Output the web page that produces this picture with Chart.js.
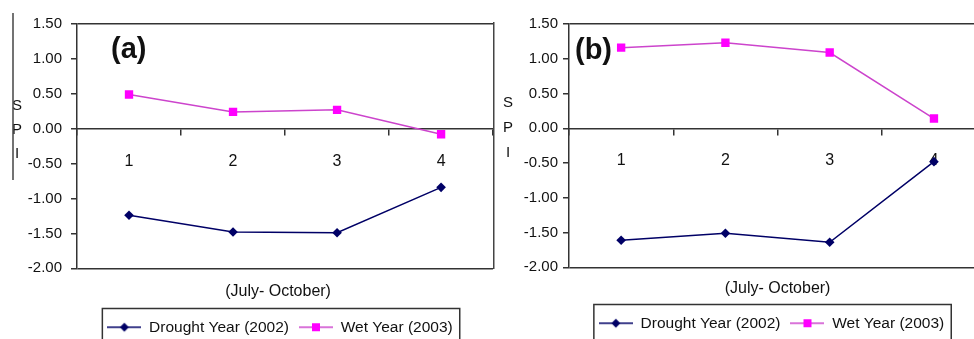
<!DOCTYPE html>
<html>
<head>
<meta charset="utf-8">
<script src="https://cdn.jsdelivr.net/npm/chart.js@4"></script>
<style>
  html, body { margin: 0; padding: 0; background: #fff; overflow: hidden; }
  #wrap { position: relative; width: 974px; height: 339px; overflow: hidden; }
  .panel { position: absolute; top: 0; width: 499px; }
  #panelA { left: 0; height: 350px; }
  #panelB { left: 493px; height: 346px; background: #fff; }
</style>
</head>
<body>
<div id="wrap">
  <div class="panel" id="panelA"><canvas id="chartA"></canvas></div>
  <div class="panel" id="panelB"><canvas id="chartB"></canvas></div>
</div>
<script>
var months = ['1', '2', '3', '4'];
var yTicks = [-2, -1.5, -1, -0.5, 0, 0.5, 1, 1.5];
var droughtA = [-1.24, -1.48, -1.49, -0.84];
var wetA = [0.49, 0.24, 0.27, -0.08];
var droughtB = [-1.61, -1.51, -1.64, -0.48];
var wetB = [1.16, 1.23, 1.09, 0.14];
var seriesNames = ['Drought Year (2002)', 'Wet Year (2003)'];
var axisTitle = '(July- October)';
var yLetters = ['S', 'P', 'I'];

var FONT = '"Liberation Sans", Arial, sans-serif';
var INK = '#111';
var AXIS = '#333';
var NAVY = '#000066';
var MAGENTA = '#ff00ff';
var MAG_LINE = '#cc44cc';

// small line+marker pictures for the legend
function legendMark(lineColor, fill, diamond) {
  var c = document.createElement('canvas');
  c.width = 34; c.height = 12;
  var g = c.getContext('2d');
  g.strokeStyle = lineColor; g.lineWidth = 1.5;
  g.beginPath(); g.moveTo(0, 6); g.lineTo(34, 6); g.stroke();
  g.fillStyle = fill;
  if (diamond) {
    g.beginPath(); g.moveTo(17, 1.5); g.lineTo(21.5, 6); g.lineTo(17, 10.5); g.lineTo(12.5, 6); g.closePath(); g.fill();
  } else {
    g.fillRect(13, 2, 8, 8);
  }
  return c;
}
var markDrought = legendMark(NAVY, NAVY, true);
var markWet = legendMark(MAG_LINE, MAGENTA, false);

var decor = {
  id: 'decor',
  beforeDraw: function(chart, args, o) {
    // nudge title and legend off the plot centre, as in the original figure
    var t = chart.titleBlock, lg = chart.legend;
    t.left += o.titleShift; t.right += o.titleShift;
    lg.left += o.legendShift; lg.right += o.legendShift;
    lg.legendHitBoxes.forEach(function(h) { h.left += o.legendShift; });
  },
  afterDraw: function(chart, args, o) {
    var ctx = chart.ctx;
    ctx.save();
    ctx.fillStyle = INK;
    ctx.textBaseline = 'middle';
    ctx.textAlign = 'left';
    ctx.font = 'bold 29px ' + FONT;
    ctx.fillText(o.tag, o.tagX, o.tagY);
    ctx.font = '15px ' + FONT;
    ctx.textAlign = 'center';
    yLetters.forEach(function(l, i) { ctx.fillText(l, o.spiX, o.spiY + i * o.spiStep); });
    ctx.strokeStyle = '#444';
    ctx.lineWidth = 1.5;
    ctx.beginPath(); ctx.moveTo(o.ruleX, o.ruleTop); ctx.lineTo(o.ruleX, o.ruleBottom); ctx.stroke();
    // frame round the legend
    var hb = chart.legend.legendHitBoxes;
    var first = hb[0], last = hb[hb.length - 1];
    var x0 = first.left - 5, x1 = last.left + last.width + 7;
    ctx.strokeStyle = AXIS;
    ctx.strokeRect(x0, first.top - 11, x1 - x0, 60);
    ctx.restore();
  }
};

function makeChart(id, drought, wet, o) {
  return new Chart(document.getElementById(id), {
    type: 'line',
    data: {
      labels: months,
      datasets: [{
        label: seriesNames[0],
        data: drought,
        borderColor: NAVY,
        backgroundColor: NAVY,
        borderWidth: 1.5,
        pointStyle: 'rectRot',
        pointRadius: 4.8,
        pointBorderWidth: 0,
        tension: 0
      }, {
        label: seriesNames[1],
        data: wet,
        borderColor: MAG_LINE,
        backgroundColor: MAGENTA,
        pointBorderColor: MAGENTA,
        borderWidth: 1.5,
        pointStyle: 'rect',
        pointRadius: 5.9,
        pointBorderWidth: 0,
        tension: 0
      }]
    },
    options: {
      responsive: true,
      maintainAspectRatio: false,
      animation: false,
      events: [],
      layout: { padding: { left: 0, right: 0, top: 24, bottom: 5 } },
      scales: {
        x: {
          position: { y: 0 },
          offset: true,
          grid: { offset: true, drawOnChartArea: false, tickLength: 6, color: AXIS, lineWidth: 1.5 },
          border: { color: AXIS, width: 1.5 },
          ticks: { color: INK, padding: 17, font: { family: FONT, size: 16 } }
        },
        y: {
          min: -2,
          max: 1.5,
          afterFit: function(s) { s.width = o.yWidth; },
          afterBuildTicks: function(s) { s.ticks = yTicks.map(function(v) { return { value: v }; }); },
          grid: {
            tickLength: 6,
            tickColor: AXIS,
            lineWidth: 1.5,
            color: function(c) {
              return (c.tick && (c.tick.value === 1.5 || c.tick.value === -2)) ? AXIS : 'rgba(0,0,0,0)';
            }
          },
          border: { color: AXIS, width: 1.5 },
          ticks: {
            color: INK,
            padding: o.yPad,
            font: { family: FONT, size: 15 },
            callback: function(v) { return Number(v).toFixed(2); }
          }
        }
      },
      plugins: {
        tooltip: { enabled: false },
        title: {
          display: true,
          text: axisTitle,
          position: 'bottom',
          fullSize: false,
          color: INK,
          font: { family: FONT, size: 16, weight: 'normal' },
          padding: { top: o.titleTop, bottom: o.titleBottom }
        },
        legend: {
          position: 'bottom',
          fullSize: false,
          weight: 3000,
          labels: {
            usePointStyle: true,
            pointStyleWidth: 34,
            padding: 10,
            color: INK,
            font: { family: FONT, size: 15.5 },
            generateLabels: function(chart) {
              var items = Chart.defaults.plugins.legend.labels.generateLabels(chart);
              items[0].pointStyle = markDrought;
              items[1].pointStyle = markWet;
              return items;
            }
          }
        },
        decor: o
      }
    },
    plugins: [decor]
  });
}

makeChart('chartA', droughtA, wetA, {
  yWidth: 77, yPad: 9, titleTop: 14, titleBottom: 8,
  titleShift: -7, legendShift: -5,
  tag: '(a)', tagX: 111, tagY: 50,
  spiX: 17, spiY: 106, spiStep: 24,
  ruleX: 13, ruleTop: 13, ruleBottom: 180
});
makeChart('chartB', droughtB, wetB, {
  yWidth: 76, yPad: 5, titleTop: 12, titleBottom: 7,
  titleShift: 0, legendShift: -6,
  tag: '(b)', tagX: 82, tagY: 51,
  spiX: 15, spiY: 103, spiStep: 25,
  ruleX: 0.75, ruleTop: 22, ruleBottom: 269
});
</script>
</body>
</html>
